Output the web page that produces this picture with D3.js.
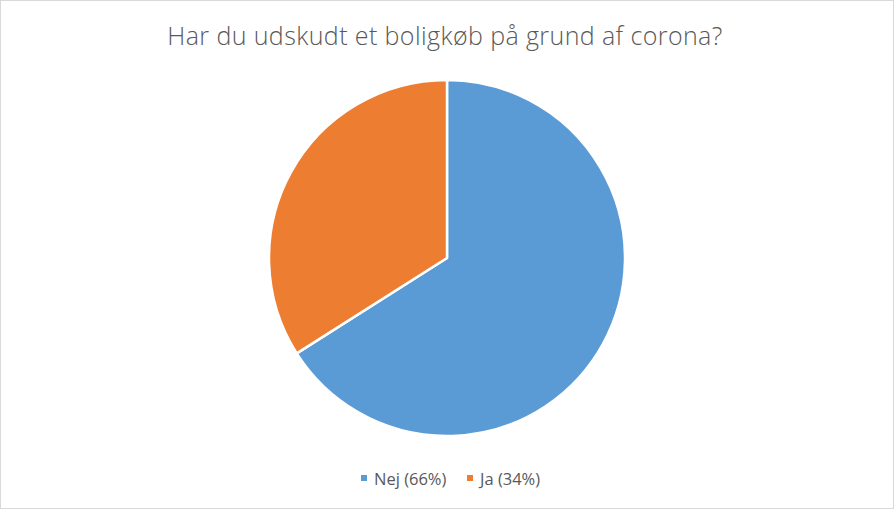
<!DOCTYPE html>
<html><head><meta charset="utf-8">
<script src="https://cdn.jsdelivr.net/npm/d3@7"></script>
<style>body{margin:0;background:#fff}</style>
</head><body>
<svg id="c" width="894" height="509"></svg>
<script>
const categories = ["Nej", "Ja"];
const values = [66, 34];
const labels = ["Nej (66%)", "Ja (34%)"];
const colors = ["#5B9BD5", "#ED7D31"];
const title = "Har du udskudt et boligkøb på grund af corona?";

const svg = d3.select("#c");
svg.append("rect").attr("x",0.5).attr("y",0.5).attr("width",893).attr("height",508)
  .attr("fill","#fff").attr("stroke","#d9d9d9");

svg.append("text").attr("x",445).attr("y",45).attr("text-anchor","middle")
  .attr("font-family","'Open Sans', 'Noto Sans', sans-serif").attr("font-weight",300)
  .attr("font-size",25).attr("letter-spacing",0.4).attr("fill","#595959").text(title);

const pie = d3.pie().sort(null).value(d=>d)(values);
const arc = d3.arc().innerRadius(0).outerRadius(178);
const g = svg.append("g").attr("transform","translate(447,258)");
g.selectAll("path").data(pie).join("path")
  .attr("d",arc).attr("fill",(d,i)=>colors[i])
  .attr("stroke","#fff").attr("stroke-width",2.5).attr("stroke-linejoin","round");

const legend = svg.append("g");
const pos = [361, 467];
labels.forEach((l,i)=>{
  legend.append("rect").attr("x",pos[i]).attr("y",475).attr("width",6).attr("height",6).attr("fill",colors[i]);
  legend.append("text").attr("x",pos[i]+13).attr("y",485)
    .attr("font-family","'Open Sans', 'Noto Sans', sans-serif").attr("font-size",16.5)
    .attr("fill","#595959").text(l);
});
</script>
</body></html>
